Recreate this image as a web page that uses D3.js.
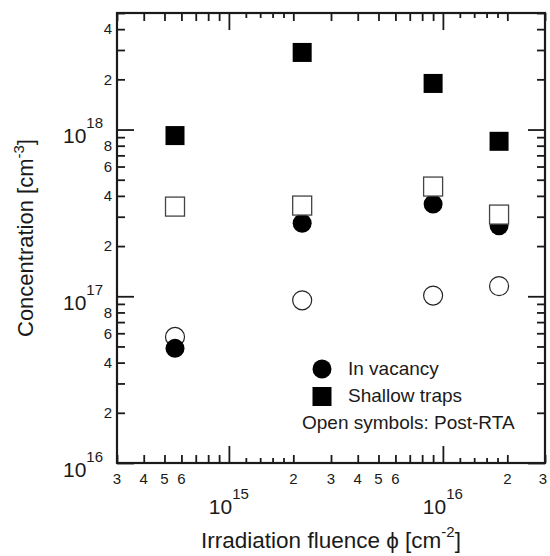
<!DOCTYPE html>
<html>
<head>
<meta charset="utf-8">
<script src="https://cdn.jsdelivr.net/npm/d3@7"></script>
<style>
  html, body { margin: 0; padding: 0; background: #fff; overflow: hidden; }
  svg { display: block; }
  text { font-family: "Liberation Sans", Arial, Helvetica, sans-serif; fill: #1a1a1a; }
</style>
</head>
<body>
<svg id="chart" width="550" height="556"></svg>
<script>
// values
const fluence = [5.6e14, 2.2e15, 9.0e15, 1.83e16];
const vacancy = [4.87e16, 2.74e17, 3.57e17, 2.65e17];
const vacancyRTA = [5.7e16, 9.46e16, 1.01e17, 1.15e17];
const shallowTraps = [9.2e17, 2.9e18, 1.89e18, 8.5e17];
const shallowTrapsRTA = [3.45e17, 3.5e17, 4.55e17, 3.09e17];

// tick setup
const xDomain = [3e14, 3e16];
const yDomain = [1e16, 5e18];
const xMajor = [1e15, 1e16];
const yMajor = [1e16, 1e17, 1e18];
const xMini = [12e14, 14e14, 16e14, 18e14, 12e15, 14e15, 16e15, 18e15];
const xLabelTicks = [3e14, 4e14, 5e14, 6e14, 2e15, 3e15, 4e15, 5e15, 6e15, 2e16, 3e16];
const yLabelTicks = [2e16, 4e16, 6e16, 8e16, 2e17, 4e17, 6e17, 8e17, 2e18, 4e18];

const margin = {top: 13, right: 5, bottom: 93, left: 117};
const width = 550 - margin.left - margin.right;
const height = 556 - margin.top - margin.bottom;

const svg = d3.select("#chart");
const g = svg.append("g").attr("transform", `translate(${margin.left},${margin.top})`);

const x = d3.scaleLog().domain(xDomain).range([0, width]);
const y = d3.scaleLog().domain(yDomain).range([height, 0]);

const isIn = (arr, d) => arr.some(v => Math.abs(v / d - 1) < 1e-9);

function logTicks(lo, hi, extra) {
    let out = [];
    for (let e = Math.floor(Math.log10(lo)); e <= Math.ceil(Math.log10(hi)); e++) {
        for (let k = 1; k <= 9; k++) {
            const v = k * 10 ** e;
            if (v >= lo * (1 - 1e-9) && v <= hi * (1 + 1e-9)) out.push(v);
        }
    }
    return out.concat(extra).sort((a, b) => a - b);
}
const xTicks = logTicks(xDomain[0], xDomain[1], xMini);
const yTicks = logTicks(yDomain[0], yDomain[1], []);

const lead = d => String(Math.round(d / 10 ** Math.floor(Math.log10(d) + 1e-9)));

function tickLen(d, majors, minis) {
    if (isIn(majors, d)) return 17;
    if (isIn(minis, d)) return 5;
    return 8;
}

// bottom axis (labels placed separately below)
const xAxisB = g.append("g").attr("transform", `translate(0,${height})`)
    .call(d3.axisBottom(x).tickValues(xTicks).tickSizeInner(-8).tickSizeOuter(0).tickFormat(""));
xAxisB.selectAll(".tick line").attr("y2", d => -tickLen(d, xMajor, xMini));

// digit labels under the bottom axis; the one at the right edge is pulled inside the page
const lastX = xLabelTicks[xLabelTicks.length - 1];
svg.append("g").selectAll("text").data(xLabelTicks).join("text")
    .attr("x", d => d === lastX ? 547 : margin.left + x(d))
    .attr("y", margin.top + height + 21)
    .attr("text-anchor", d => d === lastX ? "end" : "middle")
    .style("font-size", "15px")
    .text(d => lead(d));

// top axis
const xAxisT = g.append("g")
    .call(d3.axisTop(x).tickValues(xTicks).tickSizeInner(-8).tickSizeOuter(0).tickFormat(""));
xAxisT.selectAll(".tick line").attr("y2", d => tickLen(d, xMajor, xMini));

// left axis
const yAxisL = g.append("g")
    .call(d3.axisLeft(y).tickValues(yTicks).tickSizeInner(-8).tickSizeOuter(0).tickPadding(5)
        .tickFormat(d => isIn(yLabelTicks, d) ? lead(d) : ""));
yAxisL.selectAll(".tick line").attr("x2", d => tickLen(d, yMajor, []));
yAxisL.selectAll(".tick text").style("font-size", "15px");

// right axis
const yAxisR = g.append("g").attr("transform", `translate(${width},0)`)
    .call(d3.axisRight(y).tickValues(yTicks).tickSizeInner(-8).tickSizeOuter(0).tickFormat(""));
yAxisR.selectAll(".tick line").attr("x2", d => -tickLen(d, yMajor, []));

g.selectAll(".domain").remove();
g.selectAll(".tick line").attr("stroke", "#1a1a1a").attr("stroke-width", 1.8);

g.append("rect")
    .attr("width", width).attr("height", height)
    .attr("fill", "none").attr("stroke", "#1a1a1a").attr("stroke-width", 2.2);

// decade labels
xMajor.forEach(v => {
    const t = g.append("text")
        .attr("x", x(v)).attr("y", height + 51)
        .attr("text-anchor", "middle").style("font-size", "21px").text("10");
    t.append("tspan").attr("dy", -15).style("font-size", "15px").text(Math.round(Math.log10(v)));
});
yMajor.forEach(v => {
    const t = g.append("text")
        .attr("x", -14).attr("y", y(v) + 13.5)
        .attr("text-anchor", "end").style("font-size", "21px").text("10");
    t.append("tspan").attr("dy", -15).style("font-size", "15px").text(Math.round(Math.log10(v)));
});

// axis titles
const xt = svg.append("text")
    .attr("x", margin.left + width / 2).attr("y", 548)
    .attr("text-anchor", "middle").style("font-size", "22.5px")
    .text("Irradiation fluence \u03D5 [cm");
xt.append("tspan").attr("dy", -11).style("font-size", "15px").text("-2");
xt.append("tspan").attr("dy", 11).text("]");

const yt = svg.append("text")
    .attr("transform", `translate(33,${margin.top + height / 2}) rotate(-90)`)
    .attr("text-anchor", "middle").style("font-size", "22px")
    .text("Concentration [cm");
yt.append("tspan").attr("dy", -9).style("font-size", "15px").text("-3");
yt.append("tspan").attr("dy", 9).text("]");

// markers
const R = 9.5, S = 19;
const pts = arr => arr.map((v, i) => ({fx: fluence[i], v: v}));

g.selectAll(".vac-rta").data(pts(vacancyRTA)).join("circle")
    .attr("class", "vac-rta")
    .attr("cx", d => x(d.fx)).attr("cy", d => y(d.v)).attr("r", R)
    .attr("fill", "#fff").attr("stroke", "#222").attr("stroke-width", 1.2);

g.selectAll(".vac").data(pts(vacancy)).join("circle")
    .attr("class", "vac")
    .attr("cx", d => x(d.fx)).attr("cy", d => y(d.v)).attr("r", R)
    .attr("fill", "#000");

g.selectAll(".trap-rta").data(pts(shallowTrapsRTA)).join("rect")
    .attr("class", "trap-rta")
    .attr("x", d => x(d.fx) - S / 2).attr("y", d => y(d.v) - S / 2)
    .attr("width", S).attr("height", S)
    .attr("fill", "#fff").attr("stroke", "#444").attr("stroke-width", 1.3);

g.selectAll(".trap").data(pts(shallowTraps)).join("rect")
    .attr("class", "trap")
    .attr("x", d => x(d.fx) - S / 2).attr("y", d => y(d.v) - S / 2)
    .attr("width", S).attr("height", S)
    .attr("fill", "#000");

// legend
const leg = svg.append("g");
leg.append("circle").attr("cx", 322).attr("cy", 369).attr("r", R).attr("fill", "#000");
leg.append("rect").attr("x", 322 - S / 2).attr("y", 396.5 - S / 2)
    .attr("width", S).attr("height", S).attr("fill", "#000");
leg.append("text").attr("x", 348).attr("y", 375).style("font-size", "19px").text("In vacancy");
leg.append("text").attr("x", 348).attr("y", 402).style("font-size", "19px").text("Shallow traps");
leg.append("text").attr("x", 302).attr("y", 429).style("font-size", "19px").text("Open symbols: Post-RTA");
</script>
</body>
</html>
